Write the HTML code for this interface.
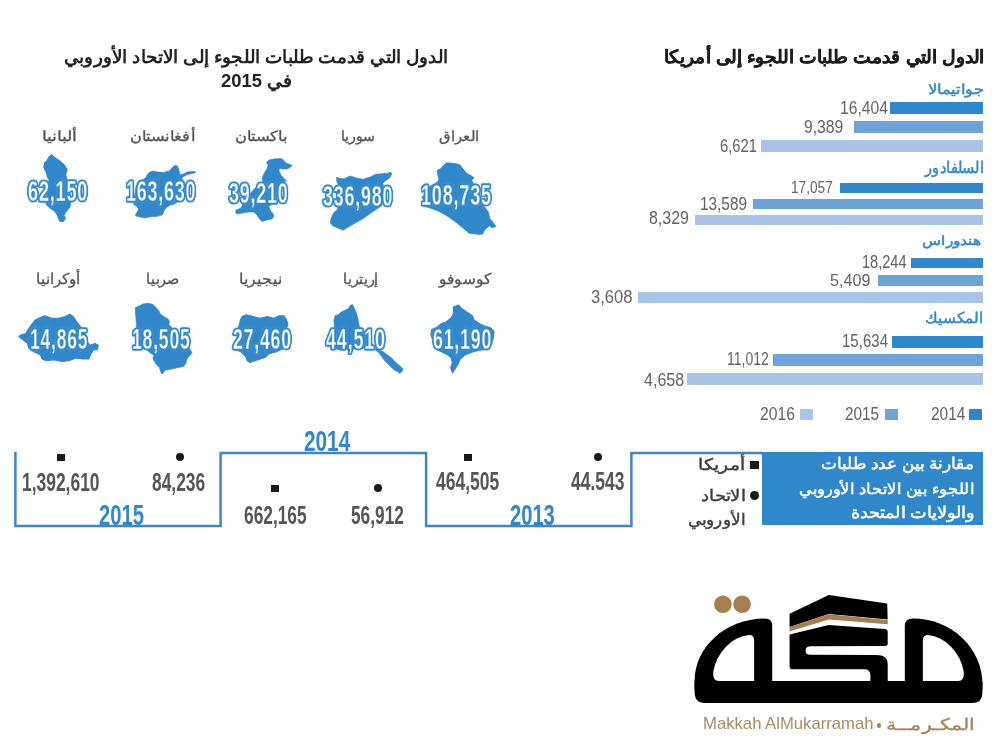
<!DOCTYPE html>
<html lang="ar"><head><meta charset="utf-8"><title>infographic</title>
<style>
html,body{margin:0;padding:0;background:#fff}
body{width:1000px;height:750px;position:relative;overflow:hidden;font-family:"Liberation Sans",sans-serif}
.t{position:absolute;white-space:nowrap;line-height:1;transform-origin:0 0}
.b,.s{position:absolute}
.o{filter:drop-shadow(1px 0 0 #3088cb) drop-shadow(-1px 0 0 #3088cb) drop-shadow(0 1px 0 #3088cb) drop-shadow(0 -1px 0 #3088cb) drop-shadow(0 0 1px rgba(120,170,222,.5))}
.o span{display:inline-block;transform-origin:0 0}
</style></head><body>
<div class="b" style="left:890.4px;top:101.8px;width:92.8px;height:12.0px;background:#3088cb"></div>
<div class="b" style="left:853.6px;top:120.6px;width:129.6px;height:12.4px;background:#6fa2d6"></div>
<div class="b" style="left:760.5px;top:139.6px;width:222.7px;height:12.4px;background:#aac4e7"></div>
<div class="b" style="left:840.0px;top:183.0px;width:143.2px;height:10.2px;background:#3088cb"></div>
<div class="b" style="left:752.5px;top:199.0px;width:230.7px;height:9.8px;background:#6fa2d6"></div>
<div class="b" style="left:694.5px;top:215.0px;width:288.7px;height:9.8px;background:#aac4e7"></div>
<div class="b" style="left:911.0px;top:258.0px;width:72.2px;height:10.4px;background:#3088cb"></div>
<div class="b" style="left:877.6px;top:275.0px;width:105.6px;height:11.0px;background:#6fa2d6"></div>
<div class="b" style="left:637.5px;top:292.3px;width:345.7px;height:10.7px;background:#aac4e7"></div>
<div class="b" style="left:891.6px;top:335.6px;width:91.6px;height:12.0px;background:#3088cb"></div>
<div class="b" style="left:773.0px;top:354.4px;width:210.2px;height:11.8px;background:#6fa2d6"></div>
<div class="b" style="left:687.0px;top:373.0px;width:296.2px;height:12.0px;background:#aac4e7"></div>
<div class="b" style="left:968.7px;top:409.2px;width:13.8px;height:10.8px;background:#3088cb"></div>
<div class="b" style="left:885.0px;top:409.2px;width:13.0px;height:10.8px;background:#6fa2d6"></div>
<div class="b" style="left:799.5px;top:409.2px;width:13.0px;height:10.8px;background:#aac4e7"></div>
<div class="b" style="left:762.0px;top:451.8px;width:221.2px;height:73.0px;background:#3088cb"></div>
<div class="b" style="left:57.0px;top:453.7px;width:7.5px;height:7.2px;background:#1a1a1a"></div>
<div class="b" style="left:271.3px;top:484.5px;width:7.5px;height:7.4px;background:#1a1a1a"></div>
<div class="b" style="left:464.0px;top:453.7px;width:7.6px;height:7.2px;background:#1a1a1a"></div>
<div class="b" style="left:750.0px;top:460.6px;width:8.7px;height:8.9px;background:#1a1a1a"></div>
<div class="b" style="left:175.5px;top:453.2px;width:8.0px;height:8.0px;background:#1a1a1a;border-radius:50%"></div>
<div class="b" style="left:373.5px;top:484.2px;width:8.0px;height:8.0px;background:#1a1a1a;border-radius:50%"></div>
<div class="b" style="left:593.5px;top:453.2px;width:8.0px;height:8.0px;background:#1a1a1a;border-radius:50%"></div>
<div class="b" style="left:749.5px;top:490.6px;width:9.4px;height:9.4px;background:#1a1a1a;border-radius:50%"></div>
<div class="b" style="left:877px;top:723.3px;width:4.4px;height:4.4px;background:#a8865a;border-radius:50%"></div>
<svg class="s" style="left:0;top:440px" width="780" height="100" viewBox="0 440 780 100"><path d="M15.4 451.8 V526.1 H220.6 V453 H426.1 V526.1 H631.4 V453 H763" fill="none" stroke="#3f86c4" stroke-width="2.5"/></svg>
<svg class="s" style="left:410px;top:155px" width="100" height="85" viewBox="0 0 882 750"><polygon points="300,85 325,68 400,75 440,85 465,120 500,160 545,185 565,200 545,225 565,260 600,330 640,400 650,450 690,500 705,560 745,610 760,632 720,640 700,625 660,660 640,700 600,700 520,690 480,655 400,590 330,540 250,495 170,465 130,455 120,400 105,375 125,345 130,300 240,240 255,215 245,180 240,135 270,120" fill="#3088cb" stroke="#3088cb" stroke-width="6" stroke-linejoin="round"/></svg>
<svg class="s" style="left:310px;top:155px" width="100" height="85" viewBox="0 0 882 750"><polygon points="235,195 255,205 300,210 355,185 400,200 470,215 530,195 580,170 640,165 690,160 710,150 722,165 705,200 670,225 640,250 650,270 645,350 640,440 600,470 540,510 470,560 400,600 330,640 290,665 260,650 200,625 180,600 185,560 210,510 240,480 250,450 245,440 250,260 235,230" fill="#3088cb" stroke="#3088cb" stroke-width="6" stroke-linejoin="round"/></svg>
<svg class="s" style="left:225px;top:152px" width="75" height="75" viewBox="0 0 750 750"><polygon points="415,105 440,80 500,68 560,65 590,85 610,110 650,125 672,135 650,155 620,170 575,170 545,165 540,190 560,230 590,265 615,290 590,300 575,320 560,350 540,400 525,450 510,490 470,520 440,545 450,580 475,610 490,640 470,670 420,680 370,695 345,670 320,630 290,600 240,600 180,610 120,620 105,600 110,580 150,565 170,545 175,520 200,480 250,420 300,360 340,320 375,300 372,260 385,225 400,200 410,180 425,160 430,130" fill="#3088cb" stroke="#3088cb" stroke-width="6" stroke-linejoin="round"/></svg>
<svg class="s" style="left:122px;top:155px" width="80" height="80" viewBox="0 0 750 750"><polygon points="235,185 260,160 290,150 340,160 390,165 420,155 445,150 460,130 485,105 505,95 525,110 535,150 545,185 580,175 610,160 650,155 685,155 690,165 650,175 610,185 580,200 560,215 570,235 590,260 585,330 560,400 520,440 490,460 450,470 420,490 395,520 380,560 330,575 270,580 210,590 160,580 125,570 135,545 155,510 140,480 110,465 105,440 115,400 125,330 130,300 150,250 200,230 225,210" fill="#3088cb" stroke="#3088cb" stroke-width="6" stroke-linejoin="round"/></svg>
<svg class="s" style="left:10px;top:110px" width="100" height="130" viewBox="0 0 577 750"><polygon points="225,270 240,258 265,280 290,295 315,320 330,345 320,375 330,400 340,440 345,490 350,530 345,560 320,590 310,610 320,625 305,645 285,640 275,610 260,585 230,565 210,545 205,525 215,480 222,440 225,400 215,385 210,360 195,330 200,305 215,290" fill="#3088cb" stroke="#3088cb" stroke-width="6" stroke-linejoin="round"/></svg>
<svg class="s" style="left:410px;top:255px" width="100" height="130" viewBox="0 0 577 750"><polygon points="250,300 280,288 300,310 330,330 360,350 370,375 400,395 430,410 465,420 485,440 480,480 470,520 440,545 400,550 360,560 320,575 290,600 275,635 255,665 245,680 235,650 245,620 235,590 215,575 185,560 155,545 135,500 120,460 125,430 150,420 175,400 210,385 235,365 250,340" fill="#3088cb" stroke="#3088cb" stroke-width="6" stroke-linejoin="round"/></svg>
<svg class="s" style="left:320px;top:295px" width="90" height="85" viewBox="0 0 843.75 796.9"><polygon points="285,95 305,90 325,130 345,180 360,240 370,300 390,330 430,380 470,430 500,480 540,510 590,530 630,560 670,590 700,620 730,650 750,665 778,690 770,715 750,735 730,720 700,705 670,680 640,650 610,620 580,580 550,540 510,510 470,500 420,500 350,505 300,510 270,535 255,510 220,515 200,520 160,510 120,500 100,490 110,440 120,380 135,300 130,240 140,195 170,185 200,160 240,140 270,125" fill="#3088cb" stroke="#3088cb" stroke-width="6" stroke-linejoin="round"/></svg>
<svg class="s" style="left:210px;top:255px" width="100" height="130" viewBox="0 0 577 750"><polygon points="185,355 210,345 250,355 290,365 330,355 370,365 400,350 425,350 440,370 450,400 440,425 440,480 430,540 410,545 380,560 340,570 320,590 290,600 260,610 230,620 215,610 205,585 180,560 150,545 150,540 155,480 160,425 170,400 175,375" fill="#3088cb" stroke="#3088cb" stroke-width="6" stroke-linejoin="round"/></svg>
<svg class="s" style="left:122px;top:298px" width="80" height="80" viewBox="0 0 750 750"><polygon points="125,90 160,75 200,55 250,50 290,60 320,90 345,120 360,150 400,180 430,195 445,220 440,250 480,290 540,340 590,400 625,460 650,500 655,520 630,545 610,570 600,610 580,640 540,650 490,660 440,670 400,680 385,705 370,710 360,680 350,650 320,620 300,590 290,565 300,540 260,510 220,480 170,470 140,460 135,400 140,330 135,250 130,180 125,130" fill="#3088cb" stroke="#3088cb" stroke-width="6" stroke-linejoin="round"/></svg>
<svg class="s" style="left:10px;top:255px" width="100" height="130" viewBox="0 0 577 750"><polygon points="175,360 200,350 240,365 280,365 320,355 345,342 365,355 385,385 405,410 425,440 440,470 445,500 460,520 490,510 510,520 505,545 480,550 465,575 455,600 420,600 380,595 340,610 300,615 250,605 210,610 185,600 175,575 140,560 110,540 100,510 75,490 50,470 65,460 90,455 105,430 125,400 145,375" fill="#3088cb" stroke="#3088cb" stroke-width="6" stroke-linejoin="round"/></svg>
<svg class="s" style="left:680px;top:585px" width="320" height="125" viewBox="680 585 320 125">
<g fill="#000">
<path d="M694.6 681 H982.4 V693 Q982.4 703 972 703 H705 Q694.6 703 694.6 692 Z"/>
<path d="M772.2 690 L772.2 626 Q772.2 618.6 765 618.6 A70.4 62.4 0 0 0 694.6 681 L694.6 690 Z"/>
<path d="M904.8 690 L904.8 626 Q904.8 618.6 913 618.6 A69.4 65.4 0 0 1 982.4 684 L982.4 690 Z"/>
<path d="M789.6 634.6 L828.8 625 L884.8 629 Q887.7 629.3 887.7 632 L887.7 643.5 Q887.7 646 885 646 L811 646.3 Q805.6 646.3 805.6 650.4 Q805.6 654.8 810 654.8 L876 655 Q887.7 655 887.7 664 L887.7 683 L870.4 683 L870.4 675 Q870.4 669.3 864 669.3 L792 669.3 Q789.6 669.3 789.6 667 Z"/>
<path d="M789.6 613.8 L828.8 594.9 L887.2 603.4 L887.7 619.6 L828.8 614 L789.6 627 Z"/>
</g>
<path d="M789.6 626.9 L828.8 614.3 L887.7 619.9 L887.7 624.2 L828.8 619.4 L789.6 631.4 Z" fill="#a67f50"/>
<g fill="#fff">
<path d="M754.1 681 L754.1 640 Q754.1 635 749 635 A41 46 0 0 0 713.2 672 Q712.5 681 719 681 Z"/>
<path d="M922.9 681 L922.9 640 Q922.9 635 928 635 A41 46 0 0 1 963.8 672 Q964.5 681 958 681 Z"/>
</g>
<circle cx="722.9" cy="604.2" r="8.8" fill="#a67f50"/>
<circle cx="742.1" cy="604.2" r="8.8" fill="#a67f50"/>
</svg>

<div class="t" dir="rtl" style="left:663.70px;top:48.84px;font-size:17.85px;transform:scaleX(1.0384);color:#1c1c1c;font-weight:700;-webkit-text-stroke:0.25px #1c1c1c;">الدول التي قدمت طلبات اللجوء إلى أمريكا</div>
<div class="t" dir="rtl" style="left:64.43px;top:48.86px;font-size:17.59px;transform:scaleX(1.0231);color:#222;font-weight:700;">الدول التي قدمت طلبات اللجوء إلى الاتحاد الأوروبي</div>
<div class="t" dir="rtl" style="left:220.98px;top:73.03px;font-size:17.61px;transform:scaleX(1.0455);color:#222;font-weight:700;">في 2015</div>
<div class="t" dir="rtl" style="left:927.62px;top:81.86px;font-size:14.21px;transform:scaleX(1.1696);color:#3088cb;-webkit-text-stroke:0.45px #3088cb;">جواتيمالا</div>
<div class="t" dir="rtl" style="left:924.69px;top:159.74px;font-size:15.79px;transform:scaleX(0.9145);color:#3088cb;-webkit-text-stroke:0.45px #3088cb;">السلفادور</div>
<div class="t" dir="rtl" style="left:922.11px;top:233.93px;font-size:13.43px;transform:scaleX(1.1918);color:#3088cb;-webkit-text-stroke:0.45px #3088cb;">هندوراس</div>
<div class="t" dir="rtl" style="left:925.48px;top:310.82px;font-size:14.74px;transform:scaleX(1.0192);color:#3088cb;-webkit-text-stroke:0.45px #3088cb;">المكسيك</div>
<div class="t" dir="rtl" style="left:438.91px;top:128.85px;font-size:14.47px;transform:scaleX(1.0583);color:#555;-webkit-text-stroke:0.3px #555;">العراق</div>
<div class="t" dir="rtl" style="left:340.93px;top:128.85px;font-size:14.47px;transform:scaleX(1.0142);color:#555;-webkit-text-stroke:0.3px #555;">سوريا</div>
<div class="t" dir="rtl" style="left:235.13px;top:128.85px;font-size:14.47px;transform:scaleX(1.1696);color:#555;-webkit-text-stroke:0.3px #555;">باكستان</div>
<div class="t" dir="rtl" style="left:129.64px;top:128.85px;font-size:14.47px;transform:scaleX(1.1650);color:#555;-webkit-text-stroke:0.3px #555;">أفغانستان</div>
<div class="t" dir="rtl" style="left:42.26px;top:128.85px;font-size:14.47px;transform:scaleX(1.2346);color:#555;-webkit-text-stroke:0.3px #555;">ألبانيا</div>
<div class="t" dir="rtl" style="left:439.37px;top:271.83px;font-size:14.61px;transform:scaleX(1.0222);color:#555;-webkit-text-stroke:0.3px #555;">كوسوفو</div>
<div class="t" dir="rtl" style="left:342.61px;top:271.83px;font-size:14.61px;transform:scaleX(0.9543);color:#555;-webkit-text-stroke:0.3px #555;">إريتريا</div>
<div class="t" dir="rtl" style="left:238.99px;top:271.83px;font-size:14.61px;transform:scaleX(1.0494);color:#555;-webkit-text-stroke:0.3px #555;">نيجيريا</div>
<div class="t" dir="rtl" style="left:146.10px;top:271.83px;font-size:14.61px;transform:scaleX(0.9625);color:#555;-webkit-text-stroke:0.3px #555;">صربيا</div>
<div class="t" dir="rtl" style="left:35.64px;top:271.83px;font-size:14.61px;transform:scaleX(1.0095);color:#555;-webkit-text-stroke:0.3px #555;">أوكرانيا</div>
<div class="t" dir="rtl" style="left:820.94px;top:455.74px;font-size:15.79px;transform:scaleX(1.0554);color:#fff;-webkit-text-stroke:0.45px #fff;">مقارنة بين عدد طلبات</div>
<div class="t" dir="rtl" style="left:798.52px;top:480.77px;font-size:15.39px;transform:scaleX(1.0817);color:#fff;-webkit-text-stroke:0.45px #fff;">اللجوء بين الاتحاد الأوروبي</div>
<div class="t" dir="rtl" style="left:850.89px;top:504.95px;font-size:15.53px;transform:scaleX(1.1097);color:#fff;-webkit-text-stroke:0.45px #fff;">والولايات المتحدة</div>
<div class="t" dir="rtl" style="left:697.94px;top:457.15px;font-size:15.53px;transform:scaleX(1.1711);color:#3d3d3d;-webkit-text-stroke:0.4px #3d3d3d;">أمريكا</div>
<div class="t" dir="rtl" style="left:701.27px;top:488.15px;font-size:15.53px;transform:scaleX(1.1297);color:#3d3d3d;-webkit-text-stroke:0.4px #3d3d3d;">الاتحاد</div>
<div class="t" dir="rtl" style="left:688.24px;top:512.45px;font-size:15.53px;transform:scaleX(1.0558);color:#3d3d3d;-webkit-text-stroke:0.4px #3d3d3d;">الأوروبي</div>
<div class="t" dir="rtl" style="left:886.40px;top:716.18px;font-size:16.45px;transform:scaleX(1.2809);color:#a8865a;-webkit-text-stroke:0.35px #a8865a;">المكـرمــة</div>
<div class="t" dir="ltr" style="left:702.96px;top:714.99px;font-size:17.39px;transform:scaleX(0.9600);color:#ab8c62;">Makkah AlMukarramah</div>
<div class="t" dir="ltr" style="left:839.95px;top:98.68px;font-size:18.73px;transform:scaleX(0.8362);color:#636363;">16,404</div>
<div class="t" dir="ltr" style="left:804.37px;top:117.68px;font-size:18.73px;transform:scaleX(0.8398);color:#636363;">9,389</div>
<div class="t" dir="ltr" style="left:719.71px;top:136.58px;font-size:18.73px;transform:scaleX(0.7889);color:#636363;">6,621</div>
<div class="t" dir="ltr" style="left:791.01px;top:178.78px;font-size:17.32px;transform:scaleX(0.7882);color:#636363;">17,057</div>
<div class="t" dir="ltr" style="left:699.92px;top:195.91px;font-size:17.75px;transform:scaleX(0.8651);color:#636363;">13,589</div>
<div class="t" dir="ltr" style="left:648.93px;top:210.31px;font-size:17.75px;transform:scaleX(0.8982);color:#636363;">8,329</div>
<div class="t" dir="ltr" style="left:861.96px;top:253.56px;font-size:17.46px;transform:scaleX(0.8350);color:#636363;">18,244</div>
<div class="t" dir="ltr" style="left:830.30px;top:271.60px;font-size:17.18px;transform:scaleX(0.9398);color:#636363;">5,409</div>
<div class="t" dir="ltr" style="left:591.29px;top:289.03px;font-size:17.61px;transform:scaleX(0.9412);color:#636363;">3,608</div>
<div class="t" dir="ltr" style="left:841.59px;top:332.18px;font-size:18.73px;transform:scaleX(0.8036);color:#636363;">15,634</div>
<div class="t" dir="ltr" style="left:727.38px;top:350.18px;font-size:18.73px;transform:scaleX(0.7477);color:#636363;">11,012</div>
<div class="t" dir="ltr" style="left:643.57px;top:370.58px;font-size:18.73px;transform:scaleX(0.8571);color:#636363;">4,658</div>
<div class="t" dir="ltr" style="left:931.14px;top:404.97px;font-size:18.03px;transform:scaleX(0.8571);color:#636363;">2014</div>
<div class="t" dir="ltr" style="left:845.35px;top:404.97px;font-size:18.03px;transform:scaleX(0.8497);color:#636363;">2015</div>
<div class="t" dir="ltr" style="left:760.33px;top:404.97px;font-size:18.03px;transform:scaleX(0.8706);color:#636363;">2016</div>
<div class="t o" style="left:28.29px;top:175.62px;font-size:29.86px;color:#fff;font-weight:700;"><span style="transform:scaleX(0.6062);letter-spacing:0.045em;-webkit-text-stroke:0.4px #3088cb;">62,150</span></div>
<div class="t o" style="left:125.87px;top:176.06px;font-size:30.28px;color:#fff;font-weight:700;"><span style="transform:scaleX(0.5908);letter-spacing:0.045em;-webkit-text-stroke:0.4px #3088cb;">163,630</span></div>
<div class="t o" style="left:228.99px;top:179.14px;font-size:29.01px;color:#fff;font-weight:700;"><span style="transform:scaleX(0.6165);letter-spacing:0.045em;-webkit-text-stroke:0.4px #3088cb;">39,210</span></div>
<div class="t o" style="left:323.30px;top:180.64px;font-size:29.72px;color:#fff;font-weight:700;"><span style="transform:scaleX(0.6009);letter-spacing:0.045em;-webkit-text-stroke:0.4px #3088cb;">336,980</span></div>
<div class="t o" style="left:421.03px;top:180.46px;font-size:29.58px;color:#fff;font-weight:700;"><span style="transform:scaleX(0.6098);letter-spacing:0.045em;-webkit-text-stroke:0.4px #3088cb;">108,735</span></div>
<div class="t o" style="left:433.30px;top:323.74px;font-size:29.72px;color:#fff;font-weight:700;"><span style="transform:scaleX(0.5969);letter-spacing:0.045em;-webkit-text-stroke:0.4px #3088cb;">61,190</span></div>
<div class="t o" style="left:325.95px;top:323.74px;font-size:29.72px;color:#fff;font-weight:700;"><span style="transform:scaleX(0.6057);letter-spacing:0.045em;-webkit-text-stroke:0.4px #3088cb;">44,510</span></div>
<div class="t o" style="left:232.95px;top:323.74px;font-size:29.72px;color:#fff;font-weight:700;"><span style="transform:scaleX(0.5943);letter-spacing:0.045em;-webkit-text-stroke:0.4px #3088cb;">27,460</span></div>
<div class="t o" style="left:131.86px;top:323.74px;font-size:29.72px;color:#fff;font-weight:700;"><span style="transform:scaleX(0.5921);letter-spacing:0.045em;-webkit-text-stroke:0.4px #3088cb;">18,505</span></div>
<div class="t o" style="left:30.07px;top:323.74px;font-size:29.72px;color:#fff;font-weight:700;"><span style="transform:scaleX(0.5879);letter-spacing:0.045em;-webkit-text-stroke:0.4px #3088cb;">14,865</span></div>
<div class="t" dir="ltr" style="left:21.95px;top:469.51px;font-size:24.93px;transform:scaleX(0.6993);color:#565656;font-weight:700;">1,392,610</div>
<div class="t" dir="ltr" style="left:151.98px;top:469.51px;font-size:24.93px;transform:scaleX(0.6980);color:#565656;font-weight:700;">84,236</div>
<div class="t" dir="ltr" style="left:243.82px;top:502.75px;font-size:25.35px;transform:scaleX(0.6833);color:#565656;font-weight:700;">662,165</div>
<div class="t" dir="ltr" style="left:351.49px;top:502.75px;font-size:25.35px;transform:scaleX(0.6825);color:#565656;font-weight:700;">56,912</div>
<div class="t" dir="ltr" style="left:435.83px;top:469.15px;font-size:25.35px;transform:scaleX(0.6909);color:#565656;font-weight:700;">464,505</div>
<div class="t" dir="ltr" style="left:570.83px;top:469.15px;font-size:25.35px;transform:scaleX(0.6889);color:#565656;font-weight:700;">44.543</div>
<div class="t" dir="ltr" style="left:99.32px;top:499.62px;font-size:29.86px;transform:scaleX(0.6775);color:#3088cb;font-weight:700;">2015</div>
<div class="t" dir="ltr" style="left:303.81px;top:426.26px;font-size:30.28px;transform:scaleX(0.6868);color:#3088cb;font-weight:700;">2014</div>
<div class="t" dir="ltr" style="left:510.31px;top:500.10px;font-size:29.30px;transform:scaleX(0.6877);color:#3088cb;font-weight:700;">2013</div>
</body></html>
